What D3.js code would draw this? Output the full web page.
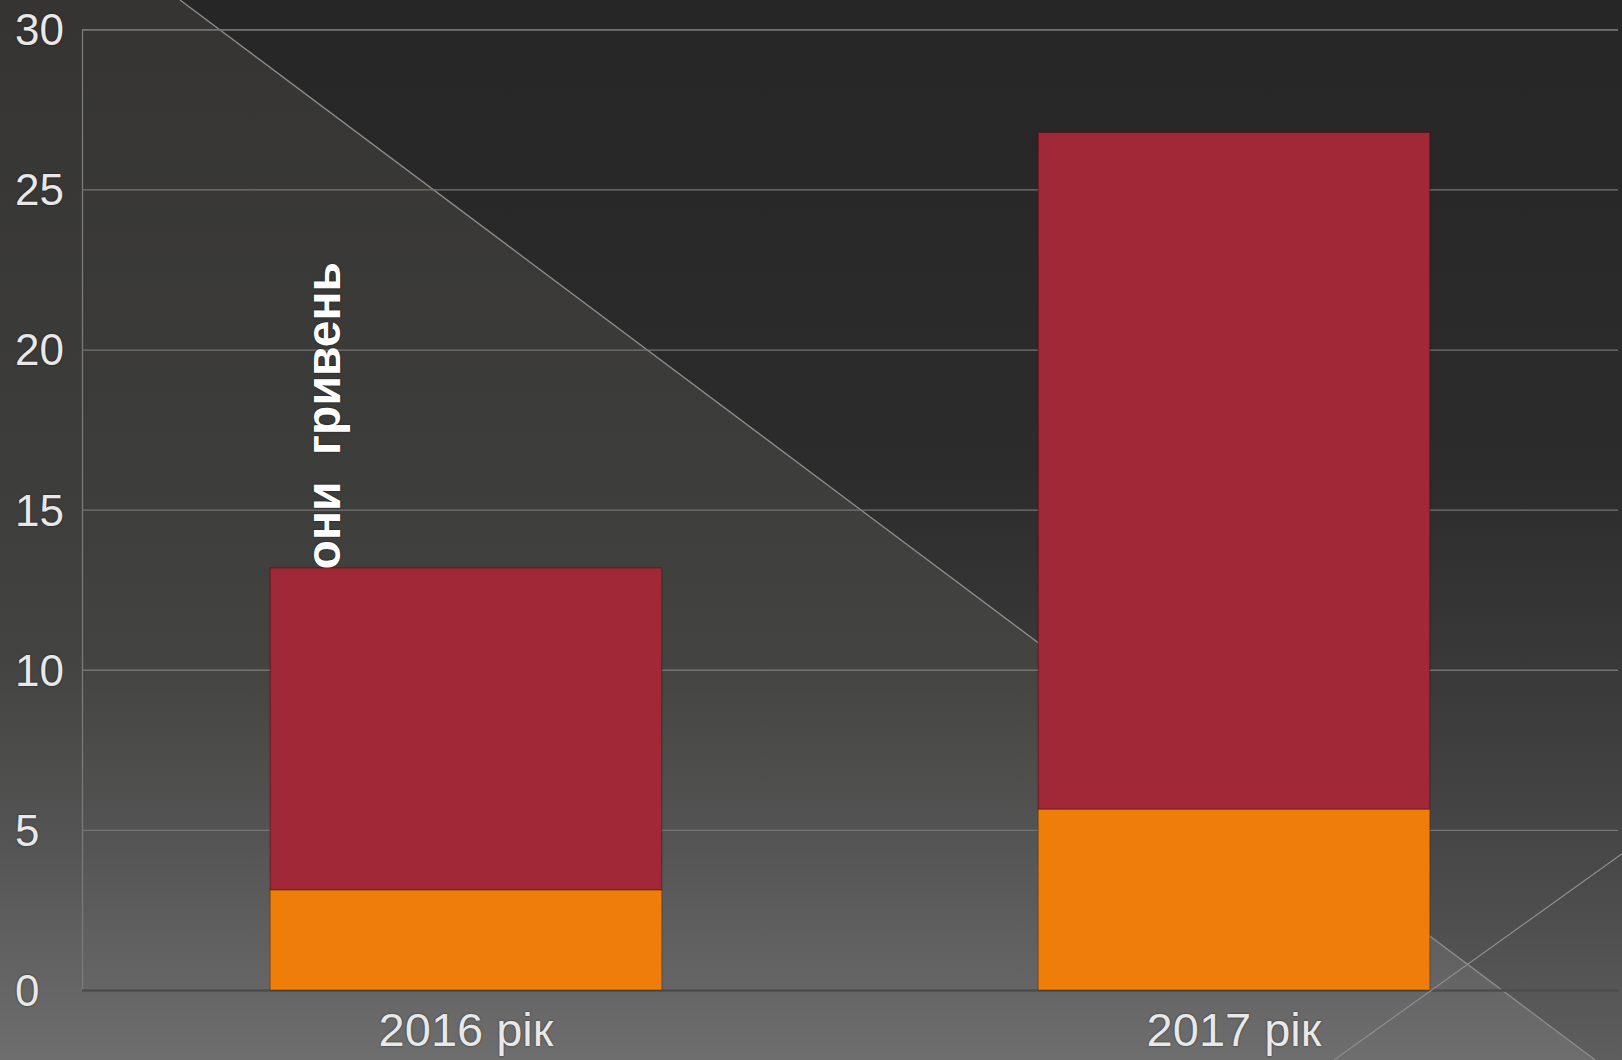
<!DOCTYPE html>
<html>
<head>
<meta charset="utf-8">
<script src="https://d3js.org/d3.v7.min.js"></script>
<style>
  html, body { margin: 0; padding: 0; background: #3a3a3a; overflow: hidden; }
  svg { display: block; }
  .lbl { font-family: "Liberation Sans", Arial, sans-serif; fill: #e8e8e8; text-shadow: 0 0 2px rgba(0,0,0,0.7); }
</style>
</head>
<body>
<div id="chart"></div>
<script>
// chart values
var categories = ["2016 рік", "2017 рік"];
var lowerSeries = [3.13, 5.65];   // orange part
var upperSeries = [10.05, 21.13]; // red part
var yTicks = [0, 5, 10, 15, 20, 25, 30];
var axisTitle = "Мільйони  гривень";

var W = 1622, H = 1060;
var plotL = 82, plotR = 1618, plotT = 29.3, plotB = 990;

var svg = d3.select("#chart").append("svg")
  .attr("width", W).attr("height", H);

var defs = svg.append("defs");
var g1 = defs.append("linearGradient").attr("id", "bgLight")
  .attr("x1", 0).attr("y1", 0).attr("x2", 0).attr("y2", 1);
[[0, "#353432"], [0.45, "#3d3d3b"], [0.62, "#434341"], [0.8, "#555555"], [1, "#6e6e6e"]]
  .forEach(function(s) { g1.append("stop").attr("offset", s[0]).attr("stop-color", s[1]); });
var g2 = defs.append("linearGradient").attr("id", "bgDark")
  .attr("gradientUnits", "userSpaceOnUse")
  .attr("x1", 0).attr("y1", 0).attr("x2", 0).attr("y2", H);
[[0, "#262626"], [0.45, "#2c2c2c"], [0.7, "#3e3e3e"], [0.85, "#4c4c4c"], [1, "#5e5e5e"]]
  .forEach(function(s) { g2.append("stop").attr("offset", s[0]).attr("stop-color", s[1]); });

// background
svg.append("rect").attr("width", W).attr("height", H).attr("fill", "url(#bgLight)");
svg.append("path")
  .attr("d", "M180,0 L" + W + ",0 L" + W + "," + (0.749 * (W - 180)) + " Z")
  .attr("fill", "url(#bgDark)");
svg.append("line")
  .attr("x1", 180).attr("y1", 0).attr("x2", 180 + H / 0.749).attr("y2", H)
  .attr("stroke", "#8c8c8c").attr("stroke-width", 1.3);

var x = d3.scaleBand().domain(categories).range([plotL, plotR])
  .paddingInner(0.49).paddingOuter(0.245);
var y = d3.scaleLinear().domain([0, 30]).range([plotB, plotT]);

// gridlines + y labels
var yAxis = svg.append("g").attr("transform", "translate(" + plotL + ",0)")
  .call(d3.axisLeft(y).tickValues(yTicks).tickSize(-(plotR - plotL)).tickPadding(0));
yAxis.select(".domain").attr("stroke", "#7a7a7a").attr("stroke-width", 1.3);
yAxis.selectAll(".tick line")
  .attr("stroke", function(d) { return d === 0 ? "#4c4c4c" : "#747474"; })
  .attr("stroke-width", function(d) { return d === 0 ? 2.5 : 1.3; });
yAxis.selectAll(".tick text")
  .attr("class", "lbl")
  .attr("x", 15 - plotL)
  .attr("text-anchor", "start")
  .attr("dy", "0.35em")
  .style("font-size", "44px");

// rotated title, partly hidden by the first bar
svg.append("text")
  .attr("class", "lbl")
  .attr("transform", "translate(340,262) rotate(-90)")
  .attr("text-anchor", "end")
  .style("font-size", "48px")
  .style("font-weight", "bold")
  .style("fill", "#ffffff")
  .style("white-space", "pre")
  .text(axisTitle);

// stacked bars
var bars = svg.append("g");
bars.selectAll("rect.low").data(categories).join("rect")
  .attr("class", "low")
  .attr("x", function(d) { return x(d); })
  .attr("width", x.bandwidth())
  .attr("y", function(d, i) { return y(lowerSeries[i]); })
  .attr("height", function(d, i) { return y(0) - y(lowerSeries[i]); })
  .attr("fill", "#ef7d0a")
  .attr("stroke", "rgba(60,30,0,0.35)").attr("stroke-width", 1.2);
bars.selectAll("rect.up").data(categories).join("rect")
  .attr("class", "up")
  .attr("x", function(d) { return x(d); })
  .attr("width", x.bandwidth())
  .attr("y", function(d, i) { return y(lowerSeries[i] + upperSeries[i]); })
  .attr("height", function(d, i) { return y(lowerSeries[i]) - y(lowerSeries[i] + upperSeries[i]); })
  .attr("fill", "#a12836")
  .attr("stroke", "rgba(40,0,0,0.35)").attr("stroke-width", 1.2);

// x labels
svg.append("g").selectAll("text").data(categories).join("text")
  .attr("class", "lbl")
  .attr("x", function(d) { return x(d) + x.bandwidth() / 2; })
  .attr("y", 1046)
  .attr("text-anchor", "middle")
  .style("font-size", "47px")
  .text(function(d) { return d; });

// second decorative line, bottom right
svg.append("line")
  .attr("x1", 1334).attr("y1", H).attr("x2", W).attr("y2", H - 0.716 * (W - 1334))
  .attr("stroke", "#8c8c8c").attr("stroke-width", 1.3);
</script>
</body>
</html>
